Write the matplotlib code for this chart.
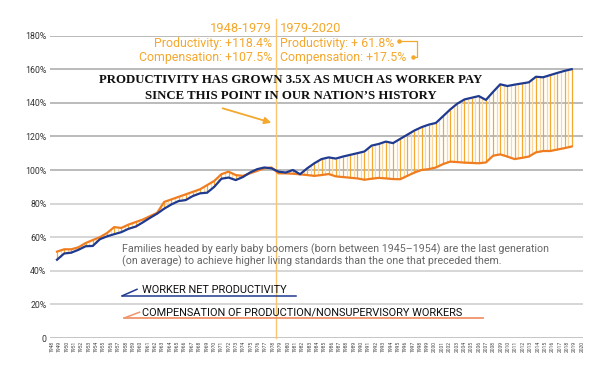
import numpy as np
import matplotlib
matplotlib.use("Agg")
import matplotlib.pyplot as plt

# data (index, % )
years = list(range(1948, 2021))
productivity = [
    46.6, 50.3, 50.8, 52.5, 54.6, 54.8, 58.8, 60.5, 61.8, 63.0,
    65.0, 66.3, 68.8, 71.5, 74.0, 77.0, 79.5, 81.5, 82.1, 84.5,
    86.1, 86.5, 90.0, 94.8, 95.5, 94.0, 95.8, 98.5, 100.5, 101.5,
    101.0, 99.0, 98.5, 100.0, 97.5, 101.0, 104.0, 106.5, 107.5, 106.8,
    108.0, 109.0, 110.0, 111.0, 114.5, 115.5, 116.9, 116.0, 118.5, 121.0,
    123.5, 125.5, 127.0, 128.0, 132.0, 136.0, 139.5, 142.0, 143.0, 144.0,
    141.7, 146.5, 151.0, 150.0, 150.8, 151.5, 152.2, 155.5, 155.2, 156.5,
    157.8, 159.0, 160.0,
]
compensation = [
    51.4, 52.8, 52.8, 54.0, 56.5, 58.3, 60.0, 62.5, 66.0, 65.5,
    67.5, 69.0, 70.5, 72.5, 74.5, 81.0, 82.5, 84.0, 85.5, 87.0,
    88.5, 91.0, 93.5, 97.5, 99.0, 97.0, 96.5, 98.0, 99.5, 101.0,
    101.5, 98.0, 98.0, 97.8, 97.4, 97.0, 96.5, 97.0, 97.6, 96.2,
    95.8, 95.4, 95.0, 94.2, 94.8, 95.3, 95.0, 94.6, 94.5, 96.5,
    98.5, 100.0, 100.5, 101.5, 103.5, 105.0, 104.7, 104.4, 104.2, 104.0,
    104.5, 108.5, 109.3, 108.0, 106.5, 107.2, 108.0, 110.5, 111.3, 111.3,
    112.2, 113.0, 114.0,
]
y_ticks = [0, 20, 40, 60, 80, 100, 120, 140, 160, 180]
y_labels = ["0", "20%", "40%", "60%", "80%", "100%", "120%", "140%", "160%", "180%"]

BLUE = "#1f3a8f"
ORANGE = "#ef7d1f"
GOLD = "#f4a82e"
W, H = 612, 391

def fx(px):
    return px / W

def fy(py):
    return 1 - py / H

fig = plt.figure(figsize=(W / 100, H / 100), dpi=100)
ax = fig.add_axes([fx(50), fy(338), fx(583) - fx(50), fy(35.6) - fy(338)])

yrs = np.array(years)
prod = np.array(productivity)
comp = np.array(compensation)

# grid
for t in y_ticks:
    c = "#a8a8a8" if t >= 100 else "#cccccc"
    if t == 0:
        c = "#b5b5b5"
    ax.axhline(t, color=c, lw=1.1, zorder=0)

# vertical hatch between the two series
ax.vlines(yrs, np.minimum(prod, comp), np.maximum(prod, comp), color=GOLD, lw=0.9, zorder=1)
mid_x = (yrs[:-1] + yrs[1:]) / 2
mid_p = (prod[:-1] + prod[1:]) / 2
mid_c = (comp[:-1] + comp[1:]) / 2
ax.vlines(mid_x, np.minimum(mid_p, mid_c), np.maximum(mid_p, mid_c), color="#fad6a0", lw=0.9, zorder=1)

ax.plot(yrs, comp, color=ORANGE, lw=1.6, zorder=3)
ax.plot(yrs, prod, color=BLUE, lw=1.6, zorder=4)

# 1979 divider
ax.plot([1978.63, 1978.63], [0, 190], color="#fbc66e", lw=1.0, clip_on=False, zorder=2)

ax.set_xlim(1947.02, 2021.58)
ax.set_ylim(0, 180)
for s in ax.spines.values():
    s.set_visible(False)
ax.set_yticks(y_ticks)
ax.set_yticklabels(y_labels, fontsize=6.3, color="#333333", family="Roboto")
ax.set_xticks(np.linspace(1947.3, 2021.44, len(years)))
ax.set_xticklabels([str(y) for y in years], rotation=90, fontsize=3.6, color="#444444", family="Roboto")
ax.tick_params(length=0, pad=2.5)
ax.tick_params(axis="x", pad=2)

# period annotations
fig.text(fx(272), fy(29), "1948-1979", ha="right", va="center", fontsize=9.3, color=GOLD, family="Roboto")
fig.text(fx(272), fy(43.5), "Productivity: +118.4%", ha="right", va="center", fontsize=8.9, color=GOLD, family="Roboto")
fig.text(fx(272), fy(58), "Compensation: +107.5%", ha="right", va="center", fontsize=8.9, color=GOLD, family="Roboto")
fig.text(fx(280), fy(29), "1979-2020", ha="left", va="center", fontsize=9.3, color=GOLD, family="Roboto")
fig.text(fx(280), fy(43.5), "Productivity: + 61.8%", ha="left", va="center", fontsize=8.9, color=GOLD, family="Roboto")
fig.text(fx(280), fy(58), "Compensation: +17.5%", ha="left", va="center", fontsize=8.9, color=GOLD, family="Roboto")
bx = [fx(399), fx(417), fx(417), fx(413)]
by = [fy(41), fy(41), fy(57), fy(57)]
fig.add_artist(plt.Line2D(bx, by, color=GOLD, lw=0.9))
fig.add_artist(plt.Line2D([bx[0], bx[3]], [by[0], by[3]], color=GOLD, lw=0, marker="o", ms=2.2))

# headline
fig.text(fx(291), fy(80), "PRODUCTIVITY HAS GROWN 3.5X AS MUCH AS WORKER PAY", ha="center", va="center",
         fontsize=9.2, fontweight="bold", color="#111111", family="Liberation Serif")
fig.text(fx(291), fy(96), "SINCE THIS POINT IN OUR NATION\u2019S HISTORY", ha="center", va="center",
         fontsize=9.2, fontweight="bold", color="#111111", family="Liberation Serif")
fig.add_artist(matplotlib.patches.FancyArrowPatch((fx(220), fy(107.5)), (fx(274), fy(123.5)),
               transform=fig.transFigure, arrowstyle="-|>,head_length=4,head_width=2",
               color=GOLD, lw=1.3))

# note
fig.text(fx(122), fy(249), "Families headed by early baby boomers (born between 1945\u20131954) are the last generation",
         ha="left", va="center", fontsize=7.65, color="#666666", family="Roboto")
fig.text(fx(122), fy(261), "(on average) to achieve higher living standards than the one that preceded them.",
         ha="left", va="center", fontsize=7.65, color="#666666", family="Roboto")

# hand-drawn legend
fig.text(fx(142), fy(290), "WORKER NET PRODUCTIVITY", ha="left", va="center", fontsize=7.9, color="#111111", family="Roboto")
fig.add_artist(plt.Line2D([fx(122), fx(296)], [fy(295.7), fy(295.7)], color=BLUE, lw=1.1))
fig.add_artist(plt.Line2D([fx(122.5), fx(137)], [fy(295.7), fy(289.3)], color=BLUE, lw=1.1))
fig.text(fx(142), fy(312), "COMPENSATION OF PRODUCTION/NONSUPERVISORY WORKERS", ha="left", va="center",
         fontsize=7.9, color="#111111", family="Roboto")
fig.add_artist(plt.Line2D([fx(124), fx(483)], [fy(317.5), fy(317.5)], color="#f0946a", lw=1.3))
fig.add_artist(plt.Line2D([fx(125), fx(139.5)], [fy(317.7), fy(312.2)], color="#f0946a", lw=1.1))

fig.savefig("out.png", dpi=100)
